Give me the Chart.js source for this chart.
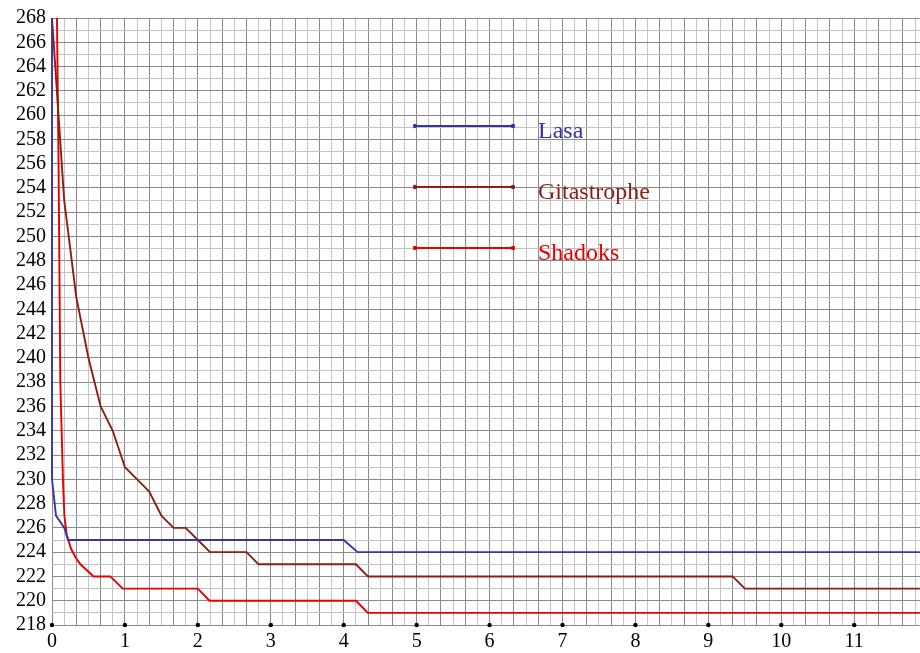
<!DOCTYPE html>
<html><head><meta charset="utf-8">
<script src="https://cdn.jsdelivr.net/npm/chart.js@4"></script>
<style>html,body{margin:0;padding:0;background:#fff}#wrap{width:920px;height:653px}</style>
</head><body><div id="wrap"><canvas id="c" width="920" height="653"></canvas></div>
<script>
const seriesNames = ['Lasa', 'Gitastrophe', 'Shadoks'];
const seriesColors = ['#3535aa', '#8c1e14', '#e60000'];

const lasaX = [0, 0, 0.055, 0.17, 0.22, 4.0, 4.19, 11.9];
const lasaY = [268, 230, 227, 226, 225, 225, 224, 224];

const gitaX = [0, 0.167, 0.333, 0.5, 0.667, 0.833, 1.0, 1.167, 1.333, 1.5, 1.667, 1.833, 2.0, 2.167, 2.667, 2.833, 4.167, 4.333, 9.333, 9.5, 11.9];
const gitaY = [268, 253, 245, 240, 236, 234, 231, 230, 229, 227, 226, 226, 225, 224, 224, 223, 223, 222, 222, 221, 221];

const shadX = [0.068, 0.09, 0.114, 0.15, 0.17, 0.2, 0.26, 0.32, 0.39, 0.57, 0.8, 0.97, 2.0, 2.16, 4.17, 4.33, 11.9];
const shadY = [268, 256, 238, 230, 227, 225.5, 224.3, 223.6, 223, 222, 222, 221, 221, 220, 220, 219, 219];

const xTickLabels = [0, 1, 2, 3, 4, 5, 6, 7, 8, 9, 10, 11];
const yTickLabels = [218, 220, 222, 224, 226, 228, 230, 232, 234, 236, 238, 240, 242, 244, 246, 248, 250, 252, 254, 256, 258, 260, 262, 264, 266, 268];
const xMin = 0, xMax = 11.9, yMin = 218, yMax = 268;
const xMinorPerUnit = 6;

const pts = (xs, ys) => xs.map((x, i) => ({x: x, y: ys[i]}));
const seriesData = [pts(lasaX, lasaY), pts(gitaX, gitaY), pts(shadX, shadY)];

const DARK = '#8a8a8a', LIGHT = '#c4c4c4';
const FONT = "'Liberation Serif', 'DejaVu Serif', serif";

const tickDots = {
  id: 'tickDots',
  afterDatasetsDraw(chart) {
    const c = chart.ctx, xs = chart.scales.x, ys = chart.scales.y;
    c.save();
    c.fillStyle = '#000';
    xTickLabels.forEach(v => {
      c.beginPath();
      c.arc(xs.getPixelForValue(v), ys.getPixelForValue(yMin), 2.2, 0, Math.PI * 2);
      c.fill();
    });
    c.restore();
  }
};

const innerLegend = {
  id: 'innerLegend',
  afterDraw(chart) {
    const c = chart.ctx;
    c.save();
    chart.data.datasets.forEach((ds, i) => {
      const y = 126 + i * 61;
      c.strokeStyle = ds.borderColor;
      c.fillStyle = ds.borderColor;
      c.lineWidth = 1.8;
      c.beginPath(); c.moveTo(415, y); c.lineTo(513, y); c.stroke();
      [415, 513].forEach(px => { c.beginPath(); c.arc(px, y, 2.2, 0, Math.PI * 2); c.fill(); });
      c.font = '24px ' + FONT;
      c.textBaseline = 'alphabetic';
      c.textAlign = 'left';
      c.fillText(ds.label, 538, y + 12);
    });
    c.restore();
  }
};

new Chart(document.getElementById('c'), {
  type: 'line',
  data: {
    datasets: seriesNames.map((n, i) => ({
      label: n,
      data: seriesData[i],
      borderColor: seriesColors[i],
      backgroundColor: seriesColors[i],
      borderWidth: 1.9,
      pointRadius: 0,
      tension: 0,
      fill: false,
      clip: false
    }))
  },
  options: {
    responsive: false,
    animation: false,
    layout: {padding: {top: 16, right: 0, left: 0, bottom: 0}},
    plugins: {legend: {display: false}, tooltip: {enabled: false}},
    scales: {
      x: {
        type: 'linear', min: xMin, max: xMax,
        afterBuildTicks(scale) {
          const t = [];
          for (let i = 0; i / xMinorPerUnit <= xMax + 1e-9; i++) t.push({value: i / xMinorPerUnit});
          scale.ticks = t;
        },
        afterFit(scale) { scale.height = 28; },
        border: {display: false},
        grid: {
          drawTicks: false,
          lineWidth: 1,
          color: ctx => (Math.round(ctx.tick.value * xMinorPerUnit) % 2 === 0 ? DARK : LIGHT)
        },
        ticks: {
          autoSkip: false, maxRotation: 0, padding: 5,
          color: '#000', font: {family: FONT, size: 20},
          callback: v => {
            const r = Math.round(v);
            return (Math.abs(v - r) < 1e-6 && xTickLabels.includes(r)) ? String(r) : '';
          }
        }
      },
      y: {
        type: 'linear', min: yMin, max: yMax,
        afterBuildTicks(scale) {
          const t = [];
          for (let v = yMin; v <= yMax; v++) t.push({value: v});
          scale.ticks = t;
        },
        afterFit(scale) { scale.width = 52; },
        border: {display: false},
        grid: {
          drawTicks: false,
          lineWidth: 1,
          color: ctx => (ctx.tick.value % 2 === 0 ? DARK : LIGHT)
        },
        ticks: {
          autoSkip: false, padding: 6,
          color: '#000', font: {family: FONT, size: 20},
          callback: v => (yTickLabels.includes(v) ? String(v) : '')
        }
      }
    }
  },
  plugins: [tickDots, innerLegend]
});
</script>
</body></html>
